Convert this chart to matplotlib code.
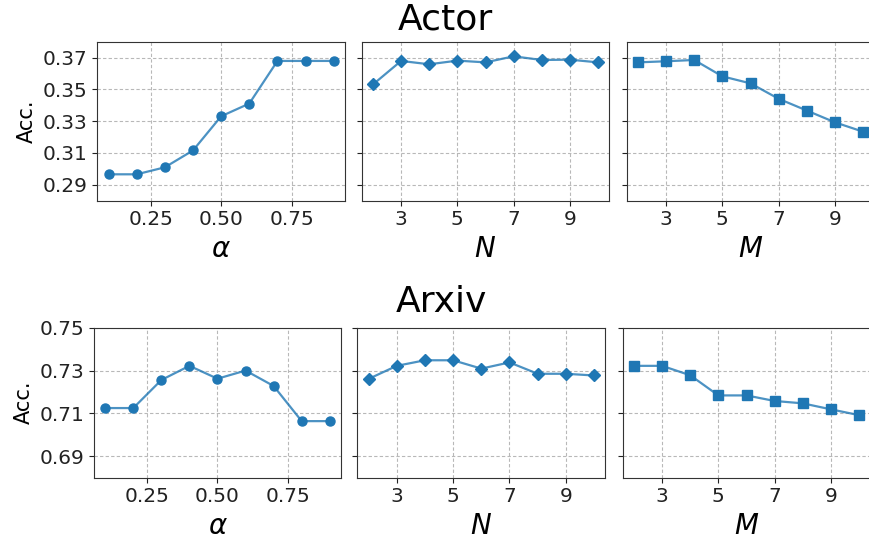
import matplotlib.pyplot as plt

# x values
alpha_vals = [0.1, 0.2, 0.3, 0.4, 0.5, 0.6, 0.7, 0.8, 0.9]
n_vals = [2, 3, 4, 5, 6, 7, 8, 9, 10]
m_vals = [2, 3, 4, 5, 6, 7, 8, 9, 10]

# Actor
actor_alpha = [0.2966, 0.2966, 0.3010, 0.3116, 0.3331, 0.3411, 0.3679, 0.3679, 0.3679]
actor_n = [0.3531, 0.3679, 0.3658, 0.3681, 0.3670, 0.3708, 0.3685, 0.3687, 0.3670]
actor_m = [0.3670, 0.3677, 0.3685, 0.3582, 0.3538, 0.3441, 0.3367, 0.3293, 0.3234]

# Arxiv
arxiv_alpha = [0.7125, 0.7125, 0.7256, 0.7322, 0.7262, 0.7300, 0.7228, 0.7064, 0.7064]
arxiv_n = [0.7261, 0.7322, 0.7348, 0.7348, 0.7309, 0.7338, 0.7285, 0.7285, 0.7277]
arxiv_m = [0.7322, 0.7322, 0.7278, 0.7184, 0.7184, 0.7158, 0.7147, 0.7119, 0.7092]

actor_yticks = [0.29, 0.31, 0.33, 0.35, 0.37]
arxiv_yticks = [0.69, 0.71, 0.73, 0.75]

W, H = 869, 539
color = '#1f77b4'


def make_axes(fig, left, top, right, bottom):
    return fig.add_axes([left / W, 1 - bottom / H, (right - left) / W, (bottom - top) / H])


def draw_panel(ax, x, y, marker, xlabel, ylim, yticks, show_ylabels):
    ax.plot(x, y, color=color, lw=1.6, alpha=0.8, zorder=3)
    ax.plot(x, y, color=color, ls='none', marker=marker, markersize=6.5, zorder=4)
    ax.set_ylim(*ylim)
    ax.set_yticks(yticks)
    ax.grid(True, ls=(0, (3, 2)), color='#b8b8b8', lw=0.8)
    ax.set_xlabel(xlabel, fontsize=20)
    ax.tick_params(labelsize=14.5, colors='#222222')
    for s in ax.spines.values():
        s.set_color('#333333')
    if show_ylabels:
        ax.set_yticklabels([f'{t:.2f}' for t in yticks])
        ax.set_ylabel('Acc.', fontsize=15)
    else:
        ax.set_yticklabels([])


fig = plt.figure(figsize=(W / 100, H / 100), dpi=100)

# top row (Actor)
ax1 = make_axes(fig, 97.3, 41.7, 345, 200.7)
ax2 = make_axes(fig, 361.7, 41.7, 609.3, 200.7)
ax3 = make_axes(fig, 626.7, 41.7, 874.3, 200.7)
draw_panel(ax1, alpha_vals, actor_alpha, 'o', r'$\alpha$', (0.28, 0.38), actor_yticks, True)
draw_panel(ax2, n_vals, actor_n, 'D', r'$N$', (0.28, 0.38), actor_yticks, False)
draw_panel(ax3, m_vals, actor_m, 's', r'$M$', (0.28, 0.38), actor_yticks, False)

# bottom row (Arxiv)
ax4 = make_axes(fig, 94, 327.7, 341, 477.7)
ax5 = make_axes(fig, 357.3, 327.7, 605.3, 477.7)
ax6 = make_axes(fig, 622.7, 327.7, 870.3, 477.7)
draw_panel(ax4, alpha_vals, arxiv_alpha, 'o', r'$\alpha$', (0.68, 0.75), arxiv_yticks, True)
draw_panel(ax5, n_vals, arxiv_n, 'D', r'$N$', (0.68, 0.75), arxiv_yticks, False)
draw_panel(ax6, m_vals, arxiv_m, 's', r'$M$', (0.68, 0.75), arxiv_yticks, False)

for ax in (ax1, ax4):
    ax.set_xticks([0.25, 0.5, 0.75])
for ax in (ax2, ax3, ax5, ax6):
    ax.set_xticks([3, 5, 7, 9])

fig.text(445 / W, 1 - 20 / H, 'Actor', fontsize=26, ha='center', va='center')
fig.text(441 / W, 1 - 302 / H, 'Arxiv', fontsize=26, ha='center', va='center')

fig.savefig('out.png', dpi=100)
